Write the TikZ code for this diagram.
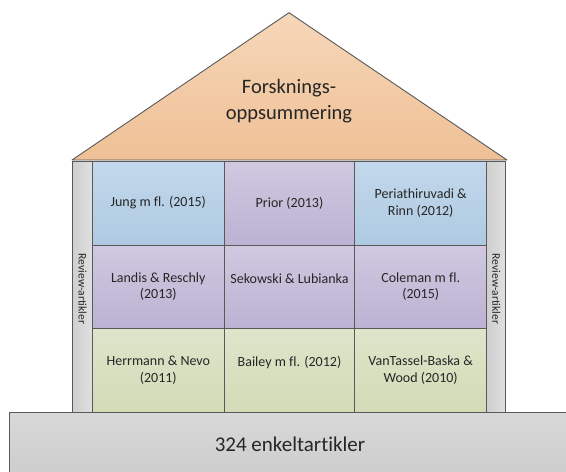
\documentclass[tikz,border=0pt]{standalone}
\usepackage{fontspec}
\setmainfont[Ligatures={NoCommon}]{Carlito}
\begin{document}
\begin{tikzpicture}[x=1pt,y=-1pt,
  edge/.style={draw=black!65, line width=0.9pt},
  cell/.style={edge, rectangle, inner sep=2pt, align=center,
    font=\fontsize{14}{16.5}\selectfont, text=black!85},
  bluecell/.style={cell, top color=blueTop, bottom color=blueBot},
  purplecell/.style={cell, top color=purTop, bottom color=purBot},
  greencell/.style={cell, top color=grnTop, bottom color=grnBot},
  pillar/.style={edge, left color=black!19, right color=black!12},
  pillartext/.style={rotate=-90, font=\fontsize{11.5}{13}\selectfont, text=black!85},
]
\definecolor{blueTop}{HTML}{C3D8EB}
\definecolor{blueBot}{HTML}{AECAE2}
\definecolor{purTop}{HTML}{D0C9E0}
\definecolor{purBot}{HTML}{BCB2D3}
\definecolor{grnTop}{HTML}{DEE5CB}
\definecolor{grnBot}{HTML}{D2DBB6}
\definecolor{roofTop}{HTML}{F6D7B9}
\definecolor{roofBot}{HTML}{EFC095}
\definecolor{baseTop}{HTML}{D8D8D8}
\definecolor{baseBot}{HTML}{CBCBCB}
\useasboundingbox (0,0) rectangle (566,472);
% pillars
\path[pillar] (72.7,161) rectangle (92.3,412);
\path[pillar] (486.7,161) rectangle (505.7,412);
\node[pillartext] (revL) at (82.5,289) {Review-artikler};
\node[pillartext] (revR) at (496.2,289) {Review-artikler};
% cells
\node[bluecell, minimum width=132pt, minimum height=84pt] (c11) at (158.3,203) {Jung m fl. (2015)};
\node[purplecell, minimum width=130.4pt, minimum height=84pt] (c12) at (289.5,203) {Prior (2013)};
\node[bluecell, minimum width=132pt, minimum height=84pt] (c13) at (420.7,203) {Periathiruvadi \&\\Rinn (2012)};
\node[purplecell, minimum width=132pt, minimum height=83pt] (c21) at (158.3,286.5) {Landis \& Reschly\\(2013)};
\node[purplecell, minimum width=130.4pt, minimum height=83pt] (c22) at (289.5,286.5) {Sekowski \& Lubianka\\\mbox{}};
\node[purplecell, minimum width=132pt, minimum height=83pt] (c23) at (420.7,286.5) {Coleman m fl.\\(2015)};
\node[greencell, minimum width=132pt, minimum height=84pt] (c31) at (158.3,370) {Herrmann \& Nevo\\(2011)};
\node[greencell, minimum width=130.4pt, minimum height=84pt] (c32) at (289.5,370) {Bailey m fl. (2012)\\\mbox{}};
\node[greencell, minimum width=132pt, minimum height=84pt] (c33) at (420.7,370) {VanTassel-Baska \&\\Wood (2010)};
% roof
\path[edge, top color=roofTop, bottom color=roofBot, line join=round] (72,160) -- (289,12.7) -- (507,160) -- cycle;
\node[align=center, font=\fontsize{20.5}{25.5}\selectfont, text=black!85] (roof) at (289,101) {Forsknings-\\oppsummering};
% base
\path[edge, top color=baseTop, bottom color=baseBot] (9,412) rectangle (580,490);
\node[font=\fontsize{21}{25}\selectfont, text=black!85] (base) at (290,444) {324 enkeltartikler};
\end{tikzpicture}
\end{document}
